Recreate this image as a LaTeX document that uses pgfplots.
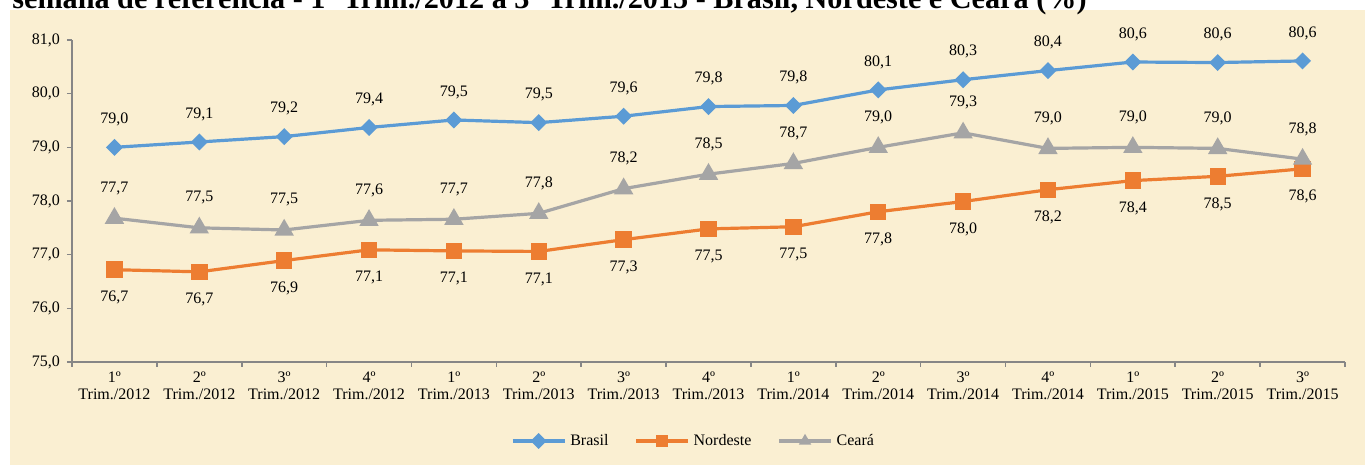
\documentclass[border=0pt]{standalone}
\usepackage{pgfplots}
\pgfplotsset{compat=1.18}
\usepackage{fontspec}
\setmainfont{Liberation Serif}
\definecolor{bg}{RGB}{250,239,210}
\definecolor{cblue}{RGB}{91,155,213}
\definecolor{corange}{RGB}{237,125,49}
\definecolor{cgray}{RGB}{165,165,165}
\definecolor{axgray}{RGB}{134,134,134}
\begin{document}
\begin{tikzpicture}
\path[use as bounding box] (-36pt,-51.5pt) rectangle (646.5pt,181pt);
\clip (-36pt,-51.5pt) rectangle (646.5pt,181pt);
\fill[white] (-36pt,-51.5pt) rectangle (646.5pt,181pt);
\fill[bg] (-31pt,-51.5pt) rectangle (646.5pt,176pt);
\node[anchor=base west, font=\bfseries\fontsize{15.1}{17}\selectfont, inner sep=0pt] at (-30pt,176.7pt) {semana de referência - 1º Trim./2012 a 3º Trim./2015 - Brasil, Nordeste e Ceará (\%)};
\begin{axis}[
  at={(0pt,0pt)}, anchor=south west,
  scale only axis, width=636.5pt, height=161pt,
  xmin=-0.5, xmax=14.5, ymin=75, ymax=81,
  clip=false,
  axis lines=left,
  axis line style={-, draw=axgray, line width=1pt},
  tick style={draw=axgray, line width=0.8pt},
  tick align=outside,
  major tick length=2.5pt,
  ytick={75,76,...,81},
  yticklabel style={font=\fontsize{8}{9}\selectfont, /pgf/number format/.cd, fixed, fixed zerofill, precision=1, use comma, assume math mode=true},
  xtick={-0.5,0.5,...,14.5},
  xticklabels={},
  extra x ticks={0,1,...,14},
  extra x tick labels={1º\\Trim./2012,2º\\Trim./2012,3º\\Trim./2012,4º\\Trim./2012,1º\\Trim./2013,2º\\Trim./2013,3º\\Trim./2013,4º\\Trim./2013,1º\\Trim./2014,2º\\Trim./2014,3º\\Trim./2014,4º\\Trim./2014,1º\\Trim./2015,2º\\Trim./2015,3º\\Trim./2015},
  extra x tick style={major tick length=0pt, xticklabel style={align=center, font=\fontsize{8}{8.5}\selectfont, yshift=-1.5pt}},
  nodes near coords={\pgfmathprintnumber[fixed,fixed zerofill,precision=1,use comma,assume math mode=true]{\pgfplotspointmeta}},
  every node near coord/.append style={font=\fontsize{8}{9}\selectfont, anchor=center, text=black},
  legend style={at={(0.489,0)}, anchor=center, yshift=-39.5pt, draw=none, fill=none, font=\fontsize{8}{9}\selectfont, legend columns=3, /tikz/every even column/.append style={column sep=11pt}},
  legend image code/.code={\draw[mark repeat=2,mark phase=2,mark size=2pt] plot coordinates {(0pt,0pt)(13pt,0pt)(26pt,0pt)};},
]
\addplot[color=cblue, line width=1.6pt, mark=square*, mark size=2.2pt, mark options={rotate=45, solid}, every node near coord/.append style={yshift=14pt}] coordinates {
(0,79.00) (1,79.10) (2,79.20) (3,79.37) (4,79.51) (5,79.46) (6,79.58) (7,79.76) (8,79.78) (9,80.07) (10,80.26) (11,80.43) (12,80.59) (13,80.58) (14,80.61)};
\addlegendentry{Brasil}
\addplot[color=corange, line width=1.6pt, mark=square*, mark size=3.3pt, every node near coord/.append style={yshift=-14pt}] coordinates {
(0,76.72) (1,76.68) (2,76.89) (3,77.09) (4,77.07) (5,77.06) (6,77.28) (7,77.48) (8,77.52) (9,77.80) (10,77.99) (11,78.21) (12,78.38) (13,78.46) (14,78.60)};
\addlegendentry{Nordeste}
\addplot[color=cgray, line width=1.6pt, mark=triangle*, mark size=4pt, every node near coord/.append style={yshift=15pt}] coordinates {
(0,77.68) (1,77.50) (2,77.46) (3,77.64) (4,77.66) (5,77.77) (6,78.23) (7,78.50) (8,78.70) (9,79.00) (10,79.27) (11,78.98) (12,79.00) (13,78.98) (14,78.78)};
\addlegendentry{Ceará}
\end{axis}
\end{tikzpicture}
\end{document}
